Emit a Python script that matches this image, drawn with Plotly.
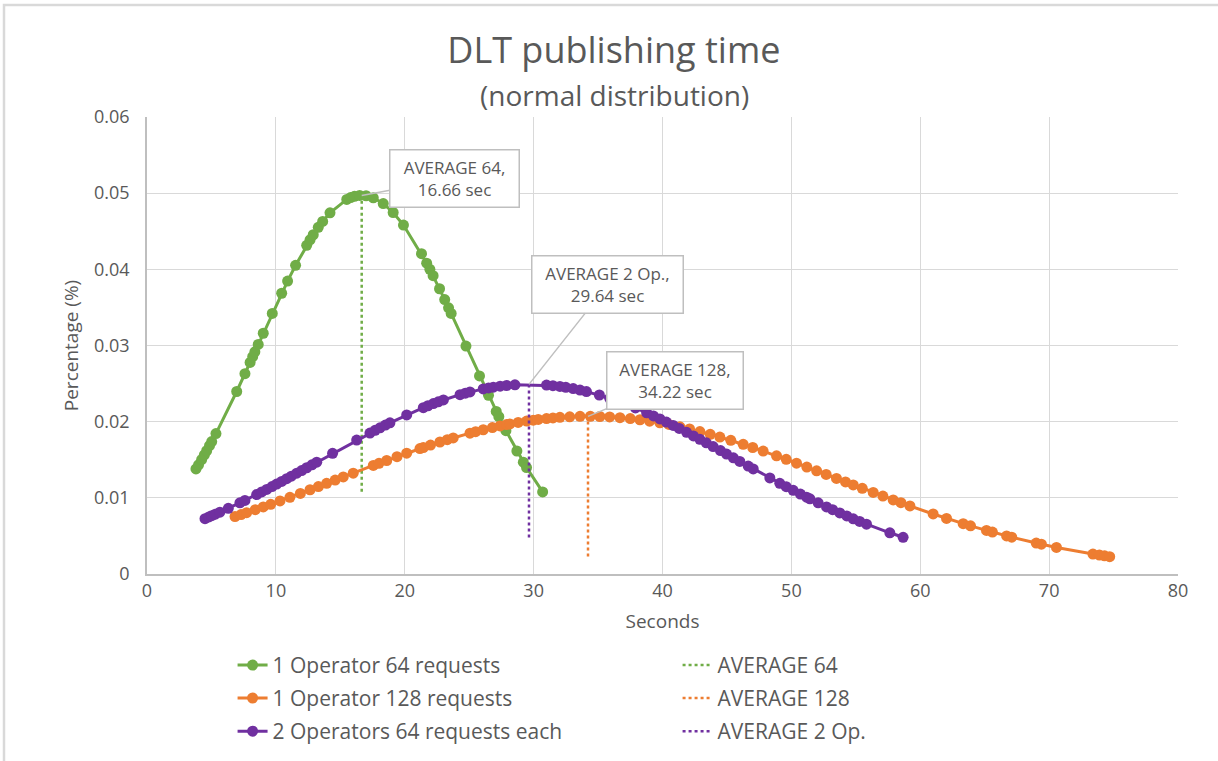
import plotly.graph_objects as go

# ---------------- data ----------------
green_x = [3.8, 4.0, 4.24, 4.45, 4.63, 4.85, 5.02, 5.35, 6.96, 7.6, 8.0, 8.2, 8.37, 8.63, 9.02, 9.72,
           10.45, 10.91, 11.53, 12.39, 12.65, 12.9, 13.29, 13.63, 14.2, 15.5, 15.8, 16.1, 16.5, 17.0,
           17.56, 18.33, 19.1, 19.9, 21.3, 21.7, 21.95, 22.2, 22.7, 23.1, 23.4, 23.6, 24.75, 25.8,
           26.5, 27.1, 27.3, 27.85, 28.7, 29.2, 29.45, 30.7]
green_y = [0.01379, 0.01434, 0.01502, 0.01564, 0.01618, 0.01685, 0.01738, 0.01843, 0.02396, 0.02630,
           0.02778, 0.02853, 0.02917, 0.03014, 0.03161, 0.03421, 0.03686, 0.03846, 0.04053, 0.04315,
           0.04388, 0.04454, 0.04551, 0.04629, 0.04742, 0.04918, 0.04942, 0.04958, 0.04970, 0.04966,
           0.04939, 0.04864, 0.04746, 0.04581, 0.04206, 0.04081, 0.04000, 0.03917, 0.03745, 0.03603,
           0.03494, 0.03421, 0.02992, 0.02600, 0.02346, 0.02135, 0.02066, 0.01882, 0.01615, 0.01468,
           0.01398, 0.01078]

orange_x = [6.83, 7.3, 7.73, 8.4, 9.02, 9.6, 10.32, 11.09, 11.9, 12.65, 13.3, 13.94, 14.6, 15.23, 16.0,
            17.56, 18.0, 18.6, 19.4, 20.15, 21.18, 21.44, 22.0, 22.73, 23.3, 23.76, 25.06, 25.5, 26.09,
            26.8, 27.39, 27.9, 28.16, 28.8, 29.46, 29.97, 30.36, 31.0, 31.5, 32.04, 32.8, 33.6, 34.4,
            35.14, 35.9, 36.7, 37.5, 38.25, 39.0, 39.8, 40.5, 41.35, 42.1, 42.9, 43.7, 44.45, 45.3,
            46.26, 47.0, 47.81, 48.85, 49.6, 50.4, 51.2, 51.96, 52.7, 53.5, 54.2, 54.8, 55.5, 56.35,
            57.1, 57.9, 58.5, 59.2, 61.0, 62.04, 63.33, 63.9, 65.14, 65.6, 66.7, 67.1, 69.0, 69.4,
            70.57, 73.4, 73.9, 74.3, 74.7]
orange_y = [0.00754, 0.00780, 0.00805, 0.00844, 0.00880, 0.00915, 0.00959, 0.01007, 0.01058, 0.01106,
            0.01148, 0.01190, 0.01233, 0.01274, 0.01324, 0.01425, 0.01453, 0.01490, 0.01540, 0.01586,
            0.01647, 0.01661, 0.01693, 0.01733, 0.01763, 0.01786, 0.01849, 0.01869, 0.01894, 0.01922,
            0.01944, 0.01962, 0.01970, 0.01990, 0.02008, 0.02020, 0.02029, 0.02041, 0.02049, 0.02057,
            0.02064, 0.02070, 0.02070, 0.02068, 0.02062, 0.02053, 0.02040, 0.02025, 0.02007, 0.01985,
            0.01963, 0.01933, 0.01904, 0.01870, 0.01834, 0.01798, 0.01755, 0.01703, 0.01661, 0.01614,
            0.01552, 0.01506, 0.01455, 0.01404, 0.01355, 0.01307, 0.01255, 0.01209, 0.01170, 0.01125,
            0.01071, 0.01023, 0.00973, 0.00936, 0.00893, 0.00788, 0.00730, 0.00661, 0.00632, 0.00572,
            0.00550, 0.00500, 0.00483, 0.00406, 0.00391, 0.00349, 0.00262, 0.00248, 0.00238, 0.00228]

purple_x = [4.5, 4.8, 5.02, 5.3, 5.66, 6.31, 7.21, 7.6, 8.51, 8.9, 9.29, 9.7, 10.06, 10.45, 10.84,
            11.2, 11.62, 12.0, 12.39, 12.8, 13.17, 14.4, 16.27, 17.3, 17.7, 18.08, 18.5, 18.85, 20.15,
            21.44, 21.8, 22.22, 22.6, 23.0, 24.29, 24.7, 25.06, 26.09, 26.5, 26.87, 27.4, 27.9, 28.55,
            31.0, 31.5, 32.04, 32.5, 33.07, 33.6, 34.1, 35.1, 35.9, 36.5, 37.2, 37.9, 38.77, 39.3,
            39.8, 40.3, 40.83, 41.3, 41.87, 42.4, 42.9, 43.4, 43.93, 44.5, 44.97, 45.5, 46.0, 46.65,
            47.04, 48.33, 49.1, 49.6, 50.14, 50.7, 51.18, 51.44, 52.08, 52.73, 53.2, 53.76, 54.3,
            54.8, 55.3, 55.83, 57.64, 58.67]
purple_y = [0.00727, 0.00749, 0.00765, 0.00785, 0.00812, 0.00862, 0.00934, 0.00966, 0.01043, 0.01077,
            0.01111, 0.01148, 0.01180, 0.01215, 0.01251, 0.01284, 0.01323, 0.01358, 0.01395, 0.01433,
            0.01468, 0.01584, 0.01758, 0.01851, 0.01886, 0.01919, 0.01955, 0.01985, 0.02089, 0.02184,
            0.02209, 0.02237, 0.02261, 0.02285, 0.02355, 0.02374, 0.02390, 0.02430, 0.02443, 0.02453,
            0.02466, 0.02475, 0.02484, 0.02481, 0.02473, 0.02462, 0.02451, 0.02434, 0.02415, 0.02395,
            0.02350, 0.02307, 0.02272, 0.02228, 0.02180, 0.02117, 0.02076, 0.02036, 0.01995, 0.01951,
            0.01911, 0.01860, 0.01813, 0.01768, 0.01722, 0.01673, 0.01620, 0.01575, 0.01525, 0.01478,
            0.01417, 0.01380, 0.01261, 0.01191, 0.01146, 0.01098, 0.01050, 0.01008, 0.00987, 0.00934,
            0.00881, 0.00844, 0.00802, 0.00762, 0.00725, 0.00690, 0.00654, 0.00541, 0.00482]

avg64_x = [16.66, 16.66]
avg64_y = [0.0108, 0.0497]
avg128_x = [34.22, 34.22]
avg128_y = [0.0023, 0.0207]
avg2_x = [29.64, 29.64]
avg2_y = [0.0048, 0.0249]

series_names = ["1 Operator 64 requests", "1 Operator 128 requests", "2 Operators 64 requests each"]
avg_names = ["AVERAGE 64", "AVERAGE 128", "AVERAGE 2 Op."]
avg_labels = ["AVERAGE 64,<br>16.66 sec", "AVERAGE 2 Op.,<br>29.64 sec", "AVERAGE 128,<br>34.22 sec"]

GREEN, ORANGE, PURPLE = "#70AD47", "#ED7D31", "#7030A0"
TXT = "#595959"
FONT = "'Open Sans', Lato, sans-serif"

fig = go.Figure()

def series(x, y, name, color, legend):
    fig.add_trace(go.Scatter(x=x, y=y, name=name, mode="lines+markers",
                             line=dict(color=color, width=3),
                             marker=dict(color=color, size=11),
                             legend=legend))

def avg(x, y, name, color, legend):
    fig.add_trace(go.Scatter(x=x, y=y, name=name, mode="lines",
                             line=dict(color=color, width=2.5, dash="dot"),
                             legend=legend))

series(green_x, green_y, series_names[0], GREEN, "legend")
avg(avg64_x, avg64_y, avg_names[0], GREEN, "legend")
series(orange_x, orange_y, series_names[1], ORANGE, "legend2")
avg(avg128_x, avg128_y, avg_names[1], ORANGE, "legend2")
series(purple_x, purple_y, series_names[2], PURPLE, "legend3")
avg(avg2_x, avg2_y, avg_names[2], PURPLE, "legend3")

leg_common = dict(orientation="h", x=0.083, xanchor="left", yanchor="middle",
                  entrywidth=400, font=dict(family=FONT, size=21, color=TXT),
                  bgcolor="rgba(0,0,0,0)")

fig.update_layout(
    width=1218, height=761,
    margin=dict(l=147, r=40, t=117, b=187, autoexpand=False),
    paper_bgcolor="white", plot_bgcolor="white",
    font=dict(family=FONT, color=TXT),
    title=dict(text="DLT publishing time", x=0.504, xanchor="center",
               y=1 - 50 / 761, yanchor="middle",
               font=dict(family=FONT, size=36, color=TXT)),
    legend=dict(y=-0.2001, **leg_common),
    legend2=dict(y=-0.2721, **leg_common),
    legend3=dict(y=-0.3446, **leg_common),
    xaxis=dict(range=[0, 80], dtick=10, showgrid=True, gridcolor="#d9d9d9", gridwidth=1,
               zeroline=False, showline=True, linecolor="#bfbfbf", linewidth=1.5,
               automargin=False,
               ticks="", tickfont=dict(family=FONT, size=18, color=TXT),
               title=dict(text="Seconds", font=dict(family=FONT, size=19, color=TXT), standoff=13)),
    yaxis=dict(range=[0, 0.06], dtick=0.01, showgrid=True, gridcolor="#d9d9d9", gridwidth=1,
               zeroline=False, showline=True, linecolor="#bfbfbf", linewidth=1.5,
               automargin=False,
               ticks="", ticklabelstandoff=12, tickfont=dict(family=FONT, size=18, color=TXT),
               title=dict(text="Percentage (%)", font=dict(family=FONT, size=19, color=TXT), standoff=10)),
    showlegend=True,
)

# subtitle
fig.add_annotation(text="(normal distribution)", xref="paper", yref="paper",
                   x=(614 - 147) / 1031, y=(574 - 95) / 457, xanchor="center", yanchor="middle",
                   showarrow=False, font=dict(family=FONT, size=28, color=TXT))

# callout labels
callouts = [(avg64_x[1], avg64_y[1], avg_labels[0], 93, -17, 118),
            (avg2_x[1], avg2_y[1], avg_labels[1], 79, -100, 140),
            (avg128_x[1], avg128_y[1], avg_labels[2], 87, -36, 125)]
for x, y, t, ax, ay, w in callouts:
    fig.add_annotation(x=x, y=y, text=t, showarrow=True, arrowhead=0, arrowwidth=1.5,
                       arrowcolor="#bfbfbf", ax=ax, ay=ay, bgcolor="white", width=w, height=46,
                       bordercolor="#bfbfbf", borderwidth=1.5, borderpad=5,
                       font=dict(family=FONT, size=17, color=TXT))

# outer chart border (top and left visible)
fig.add_shape(type="rect", xref="paper", yref="paper",
              x0=(4 - 147) / 1031, x1=1.1, y0=-0.5, y1=(574 - 5) / 457,
              line=dict(color="#d9d9d9", width=2.5), fillcolor="rgba(0,0,0,0)", layer="below")

fig.write_html("out.html", config={"displayModeBar": False},
               post_script="document.body.style.margin='0';document.body.style.padding='0';")
